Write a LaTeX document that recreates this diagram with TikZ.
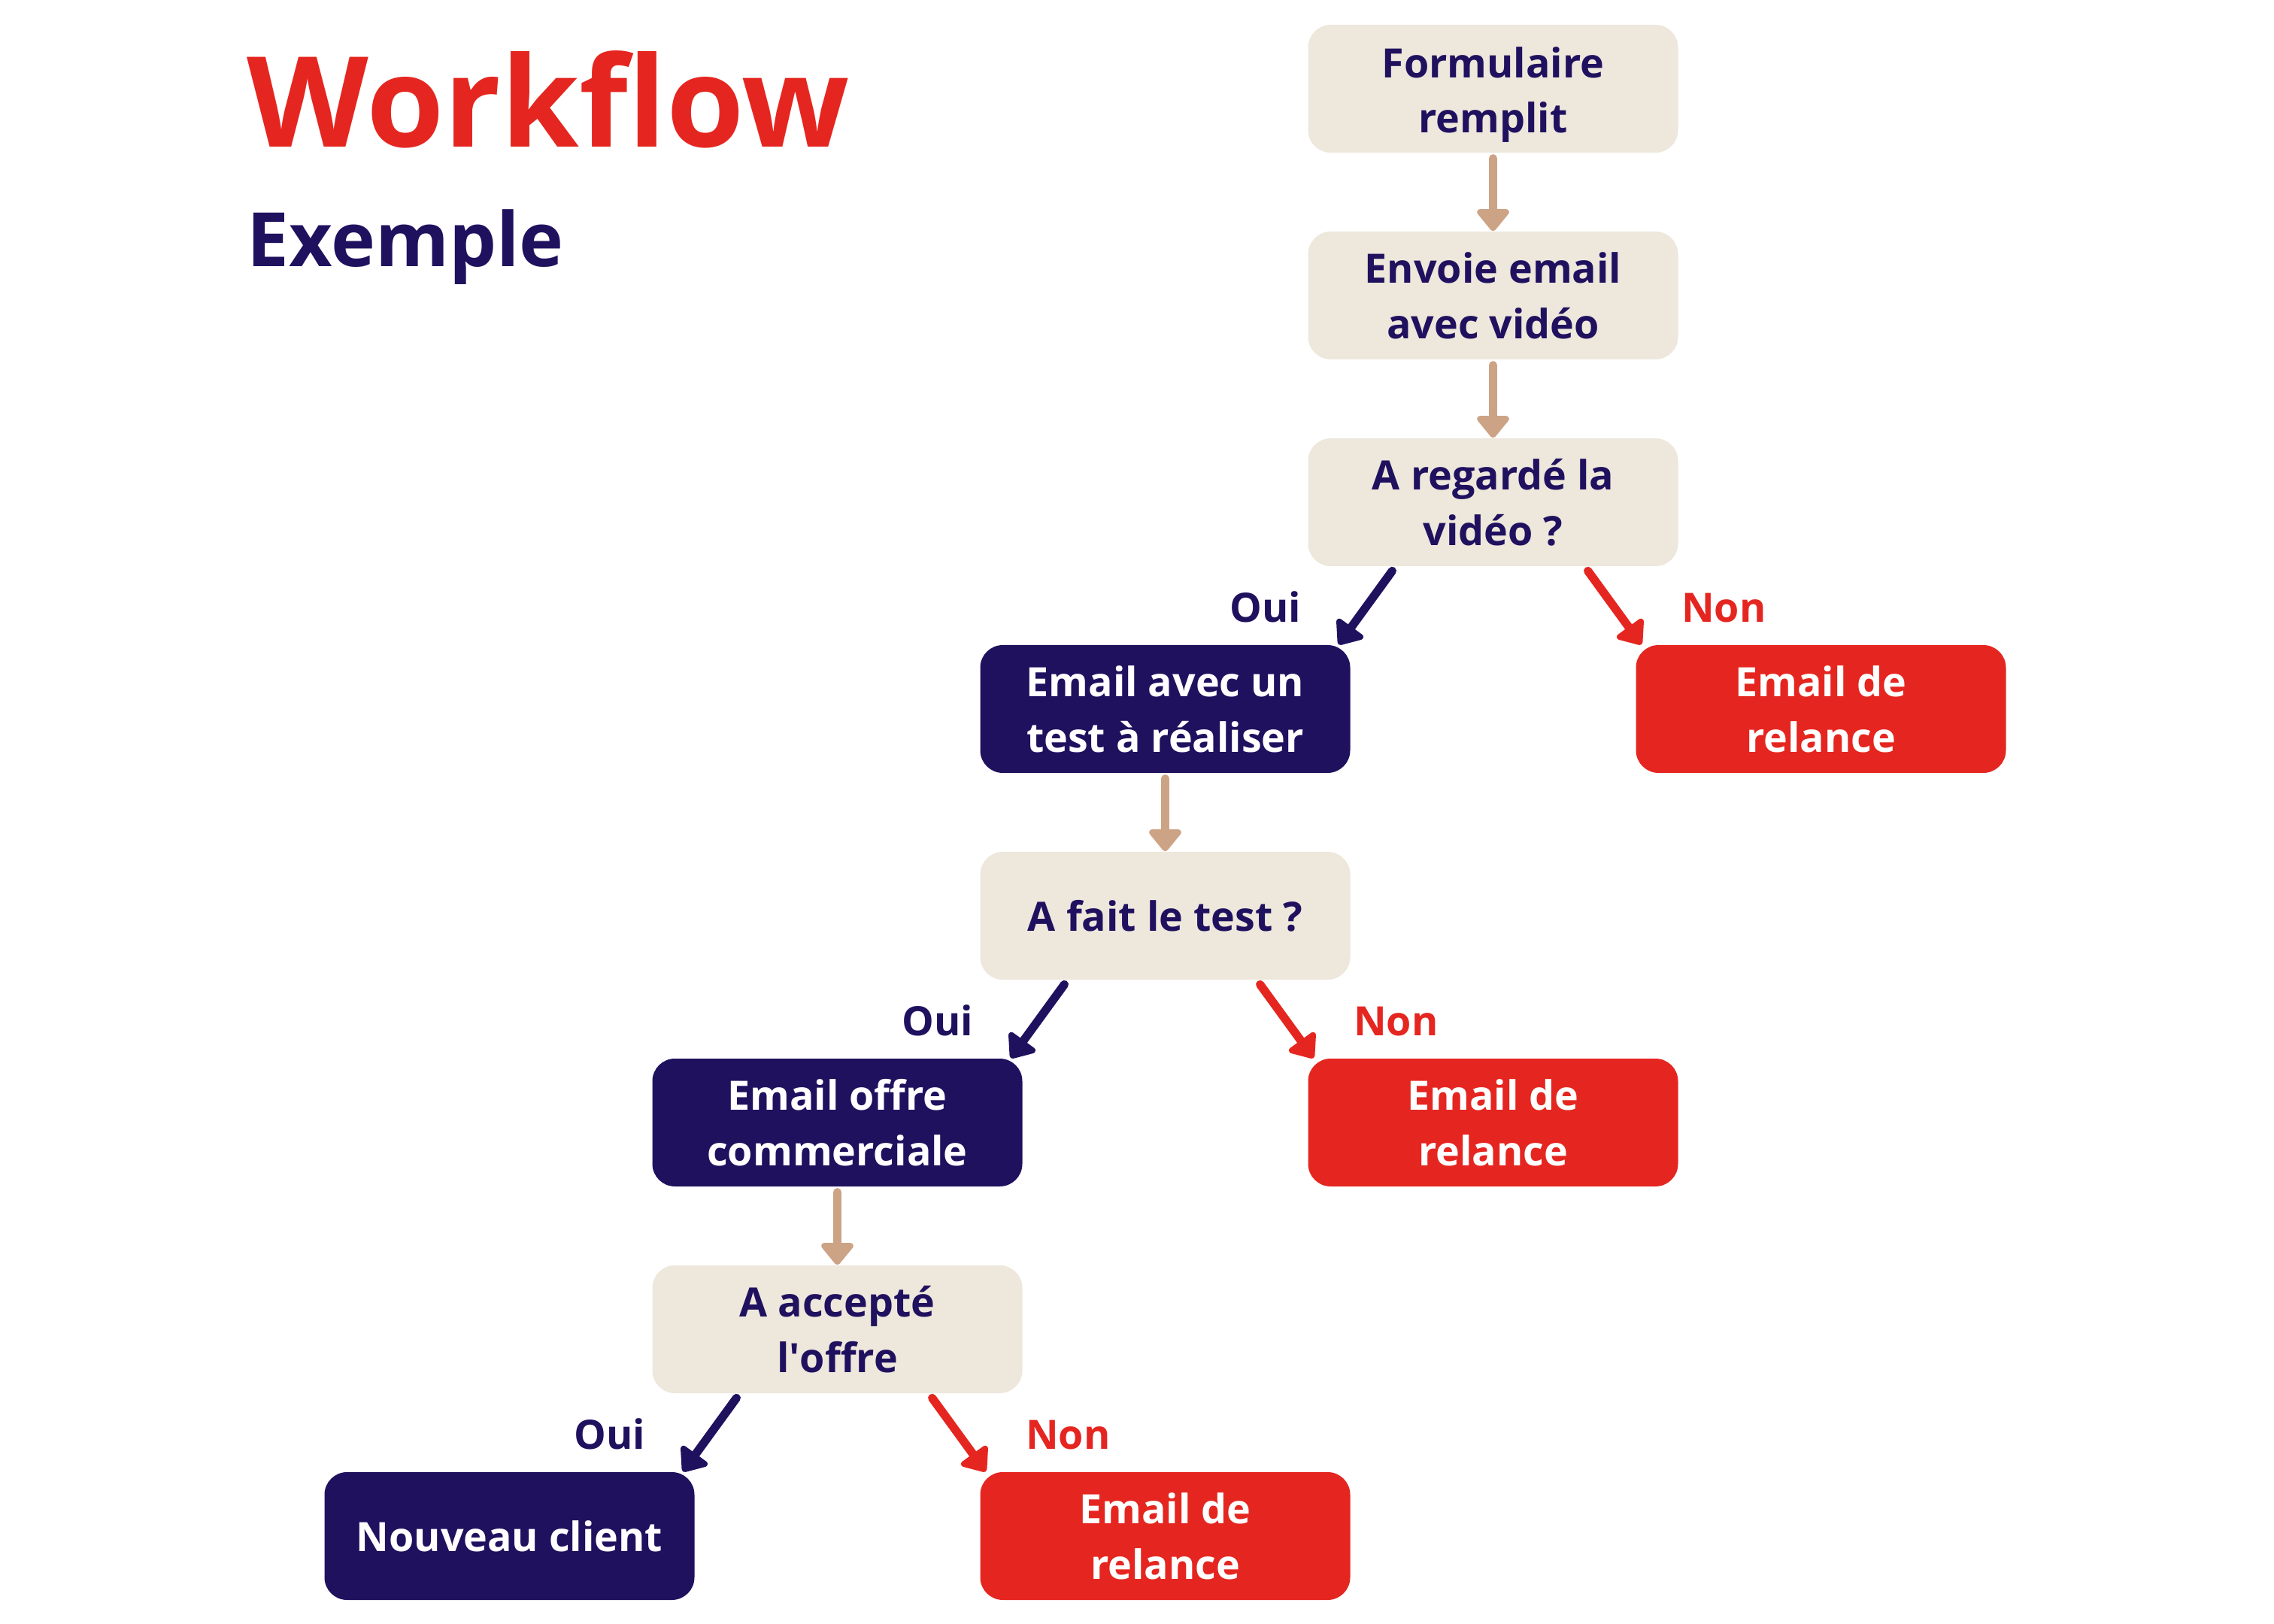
\documentclass[tikz,border=0pt]{standalone}
\usepackage{fontspec}
\setmainfont{Open Sans}
\usetikzlibrary{positioning,arrows.meta}

\definecolor{navy}{HTML}{20115F}
\definecolor{redbox}{HTML}{E52620}
\definecolor{beige}{HTML}{EDE7DC}
\definecolor{arrowtan}{HTML}{CDA385}

\begin{document}
\begin{tikzpicture}[
			font=\fontsize{15.3}{21}\selectfont\bfseries,
			askbox/.style={rectangle,fill=beige,text=navy,rounded corners=0.3cm,
				minimum width=4.92cm,minimum height=1.7cm,align=center,inner sep=0pt},
			yesbox/.style={askbox,fill=navy,text=white},
			nobox/.style={askbox,fill=redbox,text=white},
			flow/.style={draw=arrowtan,line width=3.2pt,line cap=round,shorten <=2pt,
				-{Triangle[width=14pt,length=9pt,round]}},
			ouiarrow/.style={flow,draw=navy},
			nonarrow/.style={flow,draw=redbox},
			ouilabel/.style={anchor=base east,text=navy,inner sep=0pt},
			nonlabel/.style={anchor=base west,text=redbox,inner sep=0pt},
			]
			
			\useasboundingbox (0,0) rectangle (30.24,-21.6);
			
			% Title
			\node[anchor=base west,inner sep=0pt,text=redbox,
				font=\fontsize{47.6}{56}\selectfont\bfseries] (title) at (3.28,-1.96) {Workflow};
			\node[anchor=base west,inner sep=0pt,text=navy,
				font=\fontsize{28.4}{34}\selectfont\bfseries] (subtitle) at (3.28,-3.55) {Exemple};
			
			% Steps
			\node[askbox] (form)    at (19.855,-1.18) {\rule{0pt}{16.2pt}Formulaire\\remplit};
			\node[askbox] (envoi)   at (19.855,-3.93) {Envoie email\\avec vidéo};
			\node[askbox] (regard)  at (19.855,-6.68) {A regardé la\\vidéo ?};
			
			\node[yesbox] (test)     at (15.495,-9.43) {Email avec un\\test à réaliser};
			\node[nobox]  (relance1) at (24.215,-9.43) {Email de\\relance};
			
			\node[askbox] (fait)     at (15.495,-12.18) {A fait le test ?};
			
			\node[yesbox] (offre)    at (11.135,-14.93) {Email offre\\commerciale};
			\node[nobox]  (relance2) at (19.855,-14.93) {Email de\\relance};
			
			\node[askbox] (accept)   at (11.135,-17.68) {A accepté\\l\textquotesingle offre};
			
			\node[yesbox] (client)   at (6.775,-20.43) {Nouveau client};
			\node[nobox]  (relance3) at (15.495,-20.43) {Email de\\relance};
			
			% Straight connections
			\draw[flow] (form) -- (envoi);
			\draw[flow] (envoi) -- (regard);
			\draw[flow] (test) -- (fait);
			\draw[flow] (offre) -- (accept);
			
			% Oui / Non branches
			\draw[ouiarrow] ([xshift=-1.3cm]regard.south) -- ([xshift=-0.16cm]test.north east);
			\draw[nonarrow] ([xshift=1.22cm]regard.south) -- ([xshift=0.08cm]relance1.north west);
			\node[ouilabel] (oui1) at ([xshift=-2.55cm,yshift=-0.74cm]regard.south) {Oui};
			\node[nonlabel] (non1) at ([xshift=2.5cm,yshift=-0.74cm]regard.south) {Non};
			
			\draw[ouiarrow] ([xshift=-1.3cm]fait.south) -- ([xshift=-0.16cm]offre.north east);
			\draw[nonarrow] ([xshift=1.22cm]fait.south) -- ([xshift=0.08cm]relance2.north west);
			\node[ouilabel] (oui2) at ([xshift=-2.55cm,yshift=-0.74cm]fait.south) {Oui};
			\node[nonlabel] (non2) at ([xshift=2.5cm,yshift=-0.74cm]fait.south) {Non};
			
			\draw[ouiarrow] ([xshift=-1.3cm]accept.south) -- ([xshift=-0.16cm]client.north east);
			\draw[nonarrow] ([xshift=1.22cm]accept.south) -- ([xshift=0.08cm]relance3.north west);
			\node[ouilabel] (oui3) at ([xshift=-2.55cm,yshift=-0.74cm]accept.south) {Oui};
			\node[nonlabel] (non3) at ([xshift=2.5cm,yshift=-0.74cm]accept.south) {Non};
			
		\end{tikzpicture}
\end{document}
